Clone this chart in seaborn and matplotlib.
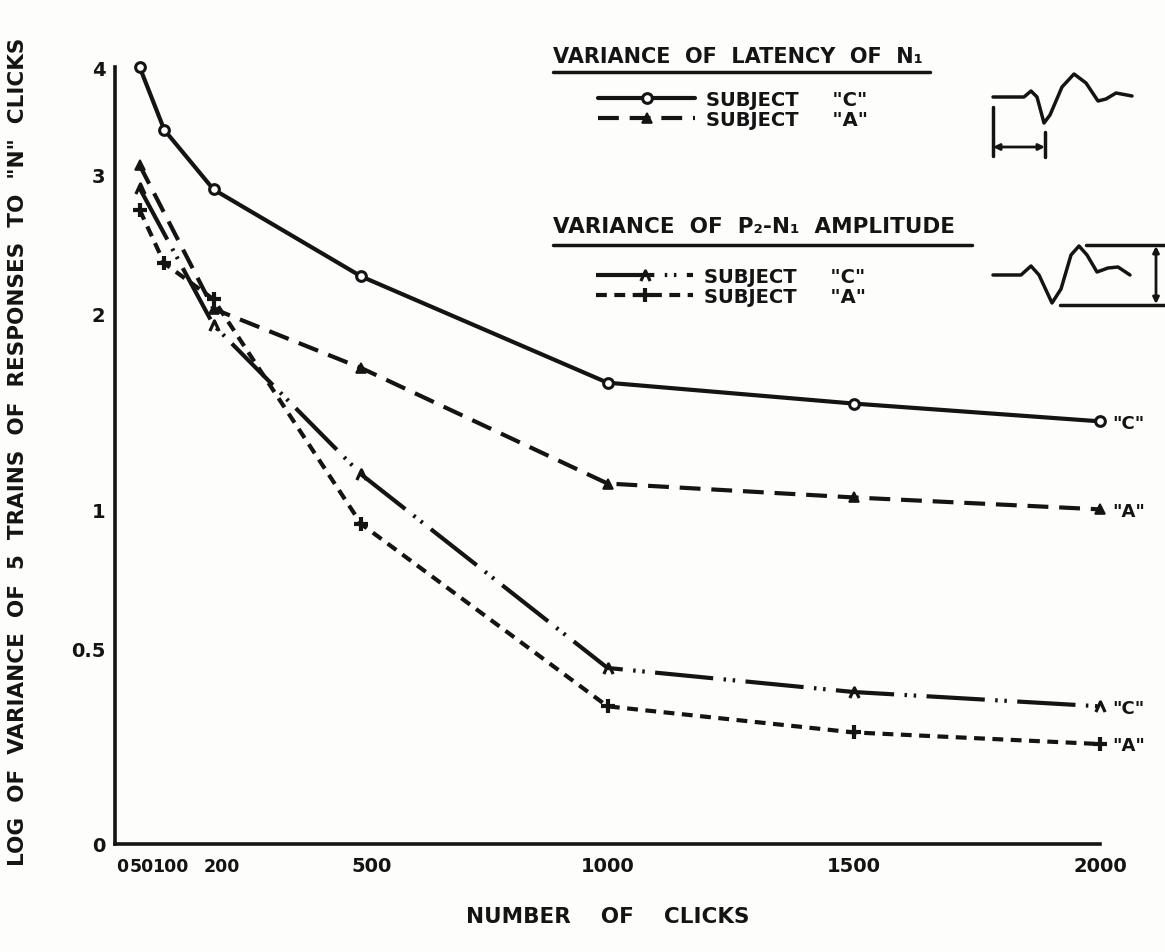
import numpy as np
import pandas as pd
import matplotlib.pyplot as plt
import matplotlib.transforms as mtransforms
import seaborn as sns
from matplotlib.path import Path

# Values (y axis is scaled as log10(1 + y))
lat_c_clicks = [50, 100, 200, 500, 1000, 1500, 2000]
lat_c = [4.0, 3.39, 2.88, 2.24, 1.60, 1.49, 1.40]
lat_a_clicks = [50, 200, 500, 1000, 1500, 2000]
lat_a = [3.08, 2.03, 1.68, 1.11, 1.05, 1.00]
amp_c_clicks = [50, 200, 500, 1000, 1500, 2000]
amp_c = [2.89, 1.93, 1.15, 0.44, 0.37, 0.33]
amp_a_clicks = [50, 100, 200, 500, 1000, 1500, 2000]
amp_a = [2.72, 2.33, 2.09, 0.94, 0.33, 0.26, 0.23]

x_ticks = [0, 50, 100, 200, 500, 1000, 1500, 2000]
x_labels = ['0', '50', '100', '200', '500', '1000', '1500', '2000']
y_ticks = [0, 0.5, 1, 2, 3, 4]
y_labels = ['0', '0.5', '1', '2', '3', '4']

ink = '#141414'

sns.set_style('white')
plt.rcParams['font.family'] = ['DejaVu Sans']
plt.rcParams['font.weight'] = 'bold'

fig = plt.figure(figsize=(11.65, 9.53), dpi=100)
fig.patch.set_facecolor('#fdfdfc')
ax = fig.add_axes([115 / 1165, 1 - 845 / 953, 985 / 1165, 777 / 953])
ax.set_facecolor('none')

ax.set_yscale('function', functions=(lambda y: np.log10(1 + np.clip(y, -0.99, None)),
                                     lambda v: 10 ** v - 1))

caret = Path([(-1, -1.2), (0, 1), (1, -1.2)], [Path.MOVETO, Path.LINETO, Path.LINETO])

sns.lineplot(x=lat_c_clicks, y=lat_c, ax=ax, color=ink, lw=3, linestyle='-',
             marker='o', markersize=7, markerfacecolor='white', markeredgecolor=ink,
             mew=2.2, clip_on=False, legend=False)
sns.lineplot(x=lat_a_clicks, y=lat_a, ax=ax, color=ink, lw=3, linestyle=(0, (5, 2.6)),
             marker='^', markersize=7.5, markerfacecolor=ink, markeredgecolor=ink,
             mew=1.2, clip_on=False, legend=False)
sns.lineplot(x=amp_c_clicks, y=amp_c, ax=ax, color=ink, lw=3,
             linestyle=(0, (14, 2.5, 0.6, 1.6, 0.6, 2.5)),
             marker=caret, markersize=8, markerfacecolor='none', markeredgecolor=ink,
             mew=2.3, clip_on=False, legend=False)
sns.lineplot(x=amp_a_clicks, y=amp_a, ax=ax, color=ink, lw=3, linestyle=(0, (2.6, 1.8)),
             marker='+', markersize=10, markeredgecolor=ink,
             mew=3, clip_on=False, legend=False)

# end-of-line subject tags
for yv, tag in [(lat_c[-1], '"C"'), (lat_a[-1], '"A"'), (amp_c[-1], '"C"'), (amp_a[-1], '"A"')]:
    ax.annotate(tag, xy=(2000, yv), xytext=(9, -1), textcoords='offset points',
                va='center', ha='left', fontsize=13, fontweight='bold', color=ink,
                annotation_clip=False)

ax.set_xlim(0, 2000)
ax.set_ylim(0, 4)
ax.set_xticks(x_ticks)
ax.set_xticklabels(x_labels)
ax.set_yticks(y_ticks)
ax.set_yticklabels(y_labels)
ax.tick_params(axis='both', direction='in', colors=ink, width=2.2, labelsize=14)
ax.tick_params(axis='x', length=11, pad=9, labelsize=14)
ax.tick_params(axis='y', length=13, pad=7)
for lab in ax.get_xticklabels() + ax.get_yticklabels():
    lab.set_fontweight('bold')

# the crowded labels near the origin are smaller and nudged right, as drawn
nudges = {'0': 7, '50': 2, '100': 6, '200': 8, '500': 10}
for lab in ax.get_xticklabels():
    txt = lab.get_text()
    if txt in nudges:
        if txt != '500':
            lab.set_fontsize(12.5)
        lab.set_transform(lab.get_transform() +
                          mtransforms.ScaledTranslation(nudges[txt] / 100, 0, fig.dpi_scale_trans))

sns.despine(ax=ax)
for side in ['left', 'bottom']:
    ax.spines[side].set_linewidth(2.6)
    ax.spines[side].set_color(ink)

ax.set_xlabel('NUMBER    OF    CLICKS', fontsize=15.5, fontweight='bold', color=ink, labelpad=22)
fig.text(18 / 1165, 1 - 452 / 953,
         'LOG  OF  VARIANCE  OF  5  TRAINS  OF  RESPONSES  TO  "N"  CLICKS',
         rotation=90, ha='center', va='center', fontsize=15.5, fontweight='bold', color=ink)

# legends
lines = ax.get_lines()
leg_kw = dict(loc='upper left', frameon=False, borderpad=0, borderaxespad=0,
              handlelength=5.0, handletextpad=0.55, labelspacing=0.05,
              prop={'weight': 'bold', 'size': 14}, labelcolor=ink, numpoints=1,
              bbox_transform=fig.transFigure)
leg1 = ax.legend(handles=[lines[0], lines[1]], labels=['SUBJECT     "C"', 'SUBJECT     "A"'],
                 bbox_to_anchor=(598 / 1165, 1 - 91 / 953), **leg_kw)
ax.add_artist(leg1)
leg2 = ax.legend(handles=[lines[2], lines[3]], labels=['SUBJECT     "C"', 'SUBJECT     "A"'],
                 bbox_to_anchor=(596 / 1165, 1 - 268 / 953), **leg_kw)

# overlay in pixel coordinates for the titles and the schematic waveforms
ov = fig.add_axes([0, 0, 1, 1])
ov.set_xlim(0, 1165)
ov.set_ylim(953, 0)
ov.axis('off')
ov.patch.set_alpha(0)

ov.text(553, 57, 'VARIANCE  OF  LATENCY  OF  N\u2081', fontsize=15, fontweight='bold',
        color=ink, va='center', ha='left')
ov.plot([553, 930], [73, 73], color=ink, lw=2.5)
ov.text(553, 227, 'VARIANCE  OF  P\u2082-N\u2081  AMPLITUDE', fontsize=15.5, fontweight='bold',
        color=ink, va='center', ha='left')
ov.plot([553, 972], [246, 246], color=ink, lw=2.5)

wave1_x = [993, 1024, 1031, 1037, 1044, 1050, 1062, 1074, 1086, 1098, 1106, 1116, 1132]
wave1_y = [98, 98, 92, 98, 124, 116, 88, 75, 84, 102, 100, 94, 97]
ov.plot(wave1_x, wave1_y, color=ink, lw=2.5, solid_joinstyle='round')
ov.plot([993, 993], [108, 157], color=ink, lw=2.5)
ov.plot([1045, 1045], [133, 158], color=ink, lw=2.5)
ov.annotate('', xy=(1045, 148), xytext=(993, 148),
            arrowprops=dict(arrowstyle='<|-|>', color=ink, lw=2, mutation_scale=9,
                            shrinkA=0, shrinkB=0))

wave2_x = [993, 1021, 1031, 1039, 1052, 1061, 1071, 1079, 1087, 1097, 1108, 1118, 1130]
wave2_y = [276, 276, 267, 276, 304, 290, 256, 247, 256, 273, 269, 268, 276]
ov.plot(wave2_x, wave2_y, color=ink, lw=2.5, solid_joinstyle='round')
ov.plot([1086, 1165], [246, 246], color=ink, lw=2.5)
ov.plot([1060, 1165], [306, 306], color=ink, lw=2.5)
ov.annotate('', xy=(1156, 247), xytext=(1156, 305),
            arrowprops=dict(arrowstyle='<|-|>', color=ink, lw=2, mutation_scale=9,
                            shrinkA=0, shrinkB=0))

fig.savefig('out.png', dpi=100, facecolor=fig.get_facecolor())
